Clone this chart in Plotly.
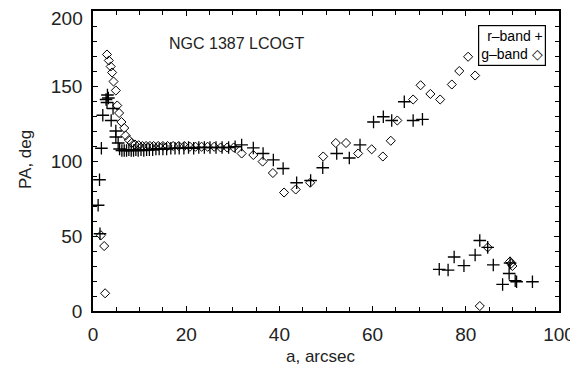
import plotly.graph_objects as go

# r-band (plus) measurements: semi-major axis a [arcsec], PA [deg]
r_a = [1.1, 1.4, 1.5, 1.8, 2.1, 2.8, 3.0, 3.1, 3.3, 3.9, 4.3, 4.9, 4.9, 5.4, 5.7,
       6.2, 6.7, 7.2, 7.7, 8.2, 8.7, 9.2, 9.7, 10.3, 10.9, 11.5, 12.1, 12.8, 13.5,
       14.2, 15.0, 15.8, 16.7, 17.6, 18.5, 19.5, 20.5, 21.6, 22.7, 23.9, 25.1,
       26.4, 27.7, 29.1, 30.5,
       31.9, 34.4, 36.5, 38.7, 40.8, 43.7, 46.7, 49.3, 52.3, 55.0, 57.3, 60.2,
       62.3, 64.1, 66.8, 68.7, 70.7,
       74.3, 76.2, 77.5, 79.6, 82.0, 83.0, 84.7, 85.9, 87.9, 89.3, 89.5, 90.6,
       90.9, 94.3]
r_pa = [70.5, 87.5, 51.5, 108.5, 130.5, 141.0, 139.0, 144.0, 142.0, 127.0, 135.0,
        120.0, 116.0, 112.0, 108.0,
        107.0, 107.0, 107.0, 107.5, 107.0, 107.0, 107.5, 107.0, 107.5, 107.0,
        107.5, 107.5, 107.5, 108.0, 108.0, 108.0, 108.0, 108.5, 108.5, 108.5,
        108.5, 109.0, 108.5, 109.0, 109.0, 109.0, 109.0, 109.0, 109.0, 109.5,
        110.7, 108.7, 105.0, 100.7, 95.0, 85.5, 87.0, 95.5, 105.0, 102.0, 110.7,
        126.0, 129.5, 127.0, 139.5, 127.0, 127.8,
        27.8, 27.3, 36.0, 30.2, 37.3, 47.0, 42.4, 30.7, 17.7, 25.0, 32.0, 20.2,
        19.5, 19.5]

# g-band (diamond) measurements
g_a = [1.7, 2.4, 2.6, 3.0, 3.4, 3.8, 4.1, 4.4, 4.9, 5.2, 5.6, 6.1, 6.7, 7.0, 7.7,
       8.3, 9.0, 9.8, 10.6, 11.4, 12.2, 13.0, 14.0, 15.0, 16.0, 17.2, 18.4,
       19.6, 20.8, 22.0, 23.3, 24.6, 26.0, 27.4, 28.8, 30.2,
       31.9, 34.4, 36.4, 38.6, 41.0, 43.5, 46.6, 49.4, 52.1, 54.3, 56.9, 59.8,
       62.2, 63.9, 65.3, 68.7, 70.3, 72.4, 74.5, 77.0, 78.6, 80.5, 82.0,
       83.0, 84.7, 89.5, 89.7, 90.0]
g_pa = [50.5, 43.3, 11.8, 171.0, 167.0, 163.0, 159.0, 153.0, 147.0, 137.0, 132.0,
        126.0, 122.0, 117.0, 114.0, 112.0, 111.0, 110.5, 110.0, 110.0, 110.0,
        110.0, 110.0, 110.0, 110.0, 110.0, 110.0, 110.0, 109.5, 109.5, 109.5,
        109.5, 109.5, 109.0, 109.0, 109.0,
        105.0, 104.0, 99.6, 92.0, 79.0, 81.0, 85.5, 103.0, 112.0, 112.0, 105.0,
        107.8, 103.0, 113.5, 127.0, 141.0, 150.5, 144.7, 141.0, 151.0, 160.0,
        169.5, 157.0,
        3.3, 42.4, 33.0, 31.5, 30.0]

x_ticks = [0, 20, 40, 60, 80, 100]
y_ticks = [0, 50, 100, 150, 200]
# the top label (200) is set just below its tick, as in the reference
y_ticktext = ["0", "50", "100", "150", ""]
y_top_label = "200"

FONT = "Liberation Sans, Arial, Helvetica, sans-serif"

# page body has an 8px margin: compensate so the plot lands where the reference has it
OFF = 8
W, H = 578, 377
L, T = 93 - OFF, 11 - OFF
pw, ph = 466, 300
R, B = W - L - pw, H - T - ph

fig = go.Figure()
fig.add_trace(go.Scatter(
    x=r_a, y=r_pa, mode="markers", name="r-band",
    marker=dict(symbol="cross-thin-open", size=9, color="black",
                line=dict(color="black", width=1.3)),
))
fig.add_trace(go.Scatter(
    x=g_a, y=g_pa, mode="markers", name="g-band",
    marker=dict(symbol="diamond-open", size=7, color="black",
                line=dict(color="black", width=1)),
))

axis_common = dict(
    showgrid=False, zeroline=False, showline=True, linecolor="black",
    linewidth=1.5, mirror="ticks", ticks="inside", ticklen=5,
    tickcolor="black", tickwidth=1.2, automargin=False,
    ticklabeloverflow="allow",
    tickfont=dict(family=FONT, size=19, color="#222"),
)

fig.update_xaxes(
    range=[0, 100], tickvals=x_ticks, ticktext=[str(v) for v in x_ticks],
    minor=dict(dtick=5, ticks="inside", ticklen=4, tickcolor="black", tickwidth=1.2),
    ticklabelstandoff=5,
    **axis_common,
)
fig.update_yaxes(
    range=[0, 200], tickvals=y_ticks, ticktext=y_ticktext,
    minor=dict(dtick=10, ticks="inside", ticklen=4, tickcolor="black", tickwidth=1.2),
    ticklabelstandoff=5,
    **axis_common,
)

def px_to_paper(px, py):
    fx, fy = px - OFF, py - OFF
    return (fx - L) / pw, (H - B - fy) / ph

ax_x, ax_y = px_to_paper(320, 356)
ay_x, ay_y = px_to_paper(25, 160)
t_x, t_y = px_to_paper(85, 19)

fig.add_annotation(
    x=ax_x, y=ax_y, xref="paper", yref="paper", showarrow=False,
    xanchor="center", yanchor="middle",
    text="a, arcsec", font=dict(family=FONT, size=17, color="#222"),
)
fig.add_annotation(
    x=ay_x, y=ay_y, xref="paper", yref="paper", showarrow=False,
    xanchor="center", yanchor="middle",
    text="PA, deg", textangle=-90, font=dict(family=FONT, size=17, color="#222"),
)
fig.add_annotation(
    x=t_x, y=t_y, xref="paper", yref="paper", showarrow=False,
    xanchor="right", yanchor="middle",
    text=y_top_label, font=dict(family=FONT, size=19, color="#222"),
)

fig.add_annotation(
    x=0.159, y=0.89, xref="paper", yref="paper", xanchor="left", yanchor="middle",
    text="NGC 1387 LCOGT", showarrow=False,
    font=dict(family=FONT, size=16, color="#222"),
)
fig.add_annotation(
    x=0.972, y=0.953, xref="paper", yref="paper", xanchor="right", yanchor="top",
    text="r\u2013band +<br>g\u2013band \u25c7", showarrow=False, align="right",
    font=dict(family=FONT, size=14, color="black"),
    bordercolor="black", borderwidth=1.2, borderpad=2, bgcolor="white",
)

fig.update_layout(
    width=W, height=H,
    margin=dict(l=L, r=R, t=T, b=B),
    paper_bgcolor="white", plot_bgcolor="white",
    showlegend=False,
)

fig.write_html("out.html")
